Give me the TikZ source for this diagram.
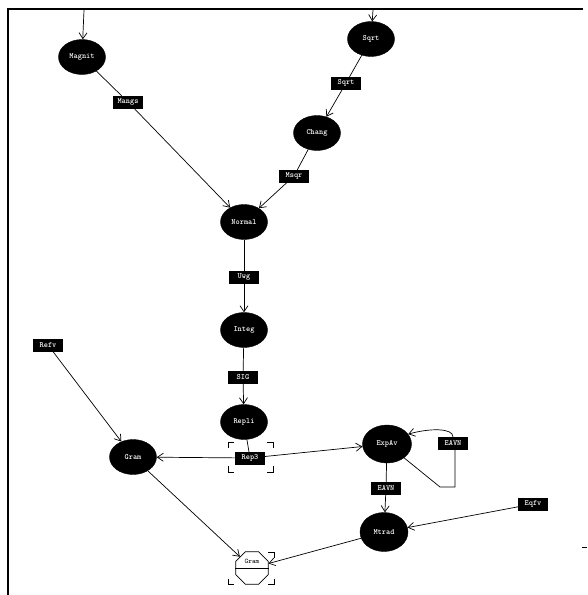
\documentclass[tikz,border=0pt]{standalone}
\usetikzlibrary{shapes.geometric,arrows.meta,calc}
\begin{document}
\begin{tikzpicture}[x=1pt,y=-1pt,
  proc/.style={ellipse,fill=black,draw=black,minimum width=47pt,minimum height=35pt,inner sep=0pt,
    text=white,font=\fontsize{8}{8}\selectfont\ttfamily\bfseries},
  lbl/.style={rectangle,fill=black,draw=black,minimum width=29pt,minimum height=12pt,inner sep=1pt,
    text=white,font=\fontsize{8}{8}\selectfont\ttfamily\bfseries},
  arr/.style={-{Straight Barb[length=6pt,width=8pt]},line width=0.7pt},
  ln/.style={line width=0.7pt},
  brk/.style={line width=0.7pt}]
\useasboundingbox (0,0) rectangle (587,595);
% frame
\draw[line width=1.6pt] (8,595) -- (8,9) -- (583,9);
\draw[line width=0.6pt] (582,547) -- (587,547);
% process nodes
\node[proc] (Magnit) at (82,57) {Magnit};
\node[proc] (Sqrt) at (371,39) {Sqrt};
\node[proc] (Chang) at (317,133) {Chang};
\node[proc] (Normal) at (244,222) {Normal};
\node[proc] (Integ) at (244,330) {Integ};
\node[proc] (Repli) at (244,422) {Repli};
\node[proc] (GramL) at (133,457) {Gram};
\node[proc,minimum width=49pt,minimum height=38pt] (ExpAv) at (387,444) {ExpAv};
\node[proc,minimum width=48pt,minimum height=39pt] (Mtrad) at (384,532) {Mtrad};
% labels
\node[lbl] (Mangs) at (128,102) {Mangs};
\node[lbl] (SqrtL) at (346,83) {Sqrt};
\node[lbl] (Msqr) at (294,176) {Msqr};
\node[lbl] (Uwg) at (244,277) {Uwg};
\node[lbl] (SIG) at (243,377) {SIG};
\node[lbl] (Rep3) at (250,458) {Rep3};
\node[lbl] (EAVNr) at (453,443) {EAVN};
\node[lbl] (EAVNd) at (386,488) {EAVN};
\node[lbl] (Eqfv) at (533,504) {Eqfv};
\node[lbl] (Refv) at (48,345) {Refv};
% octagon
\node[regular polygon,regular polygon sides=8,draw,line width=0.7pt,minimum size=35pt,inner sep=0pt] (Oct) at (252,568) {};
\node[inner sep=1pt,font=\fontsize{7}{7}\selectfont\ttfamily] (OctT) at (252,561) {Gram};
\draw[line width=0.7pt] (Oct.west) -- (Oct.east);
% brackets
\draw[brk] (228,448) -- (228,442) -- (234,442);
\draw[brk] (267,442) -- (273,442) -- (273,448);
\draw[brk] (228,466) -- (228,472) -- (234,472);
\draw[brk] (267,472) -- (273,472) -- (273,466);
\draw[brk] (228,579) -- (228,584) -- (234,584);
\draw[brk] (268,584) -- (274,584) -- (274,579);
\draw[brk] (268,552) -- (274,552) -- (274,558);
% incoming arrows
\coordinate (inM) at (84,10);
\coordinate (inS) at (373,10);
\draw[arr] (inM) -- (Magnit);
\draw[arr] (inS) -- (Sqrt);
% chains
\draw[ln] (Magnit) -- (Mangs);
\draw[arr] (Mangs) -- (Normal);
\draw[ln] (Sqrt) -- (SqrtL);
\draw[arr] (SqrtL) -- (Chang);
\draw[ln] (Chang) -- (Msqr);
\draw[arr] (Msqr) -- (Normal);
\draw[ln] (Normal) -- (Uwg);
\draw[arr] (Uwg) -- (Integ);
\draw[ln] (Integ) -- (SIG);
\draw[arr] (SIG) -- (Repli);
\draw[ln] (Repli) -- (Rep3);
\draw[arr] (Rep3) -- (GramL);
\draw[arr] (Rep3) -- (ExpAv);
\draw[arr] (Refv) -- (GramL);
\draw[ln] (ExpAv) -- (EAVNd);
\draw[arr] (EAVNd) -- (Mtrad);
\draw[arr] (Eqfv) -- (Mtrad);
\draw[arr] (Mtrad) -- (Oct);
\draw[arr] (GramL) -- (Oct);
% loop
\coordinate (l1) at (440,487);
\coordinate (l2) at (455,487);
\draw[ln] (ExpAv) -- (l1) -- (l2) -- (l2 |- EAVNr.south);
\draw[arr] (EAVNr.north) .. controls (453,428) and (430,428) .. (ExpAv.25);
\end{tikzpicture}
\end{document}
